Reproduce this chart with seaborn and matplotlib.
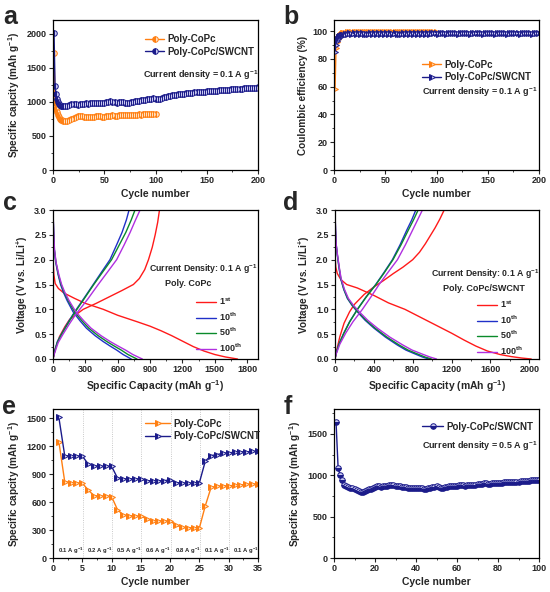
import numpy as np
import pandas as pd
import seaborn as sns
import matplotlib.pyplot as plt
from matplotlib.ticker import AutoMinorLocator
from matplotlib.lines import Line2D

sns.set_style('ticks')
plt.rcParams['font.family'] = ['Liberation Sans', 'DejaVu Sans']
plt.rcParams['font.weight'] = 'bold'
plt.rcParams['axes.labelweight'] = 'bold'
plt.rcParams['mathtext.fontset'] = 'custom'
plt.rcParams['mathtext.rm'] = 'Liberation Sans:bold'
plt.rcParams['mathtext.bf'] = 'Liberation Sans:bold'
plt.rcParams['mathtext.default'] = 'bf'

ORANGE = '#FF7F12'
NAVY = '#1B1B8A'

# ---- panel a : cycling at 0.1 A/g
a_cyc_copc = list(range(1, 11)) + list(range(12, 101, 2))
a_cap_copc = [1710, 990, 900, 850, 810, 780, 755, 740, 730, 722,
              718, 722, 735, 750, 765, 775, 785, 790, 785, 778,
              775, 772, 775, 778, 780, 785, 790, 785, 780, 782,
              790, 795, 798, 800, 798, 795, 800, 803, 805, 806,
              808, 806, 805, 808, 810, 812, 815, 813, 815, 818,
              820, 822, 822, 825, 826]
a_cyc_swcnt = list(range(1, 11)) + list(range(12, 201, 2))
a_cap_swcnt = [2010, 1230, 1110, 1040, 1000, 970, 955, 945, 938, 932,
               935, 945, 958, 968, 972, 968, 960, 962, 968, 975,
               978, 975, 980, 988, 985, 990, 982, 978, 985, 990,
               995, 1000, 1005, 1000, 995, 990, 995, 1000, 995, 990,
               985, 990, 995, 1000, 1008, 1012, 1018, 1020, 1028, 1032,
               1036, 1040, 1045, 1050, 1048, 1040, 1045, 1058, 1068, 1075,
               1085, 1090, 1095, 1100, 1105, 1108, 1110, 1115, 1120, 1125,
               1128, 1130, 1135, 1138, 1140, 1142, 1145, 1148, 1150, 1152,
               1155, 1158, 1160, 1162, 1165, 1168, 1170, 1172, 1175, 1178,
               1180, 1182, 1185, 1188, 1190, 1192, 1195, 1198, 1200, 1202,
               1205, 1206, 1208, 1210, 1212]

# ---- panel b : coulombic efficiency
b_ce_copc = [58, 88, 92, 94.5, 96, 96.8, 97.5, 98, 98.4, 98.7,
             99.0, 99.2, 99.4, 99.3, 99.5, 99.2, 99.6, 99.4, 99.1, 99.5,
             99.3, 99.6, 99.2, 99.4, 99.5, 99.1, 99.6, 99.3, 99.4, 99.2,
             99.5, 99.3, 99.6, 99.4, 99.2, 99.5, 99.3, 99.1, 99.6, 99.4,
             99.2, 99.5, 99.3, 99.6, 99.4, 99.1, 99.5, 99.3, 99.4, 99.2,
             99.6, 99.3, 99.5, 99.4, 99.2]
b_ce_swcnt = [85, 90, 93, 94.5, 95.5, 96.2, 96.8, 97, 97.2, 97.4,
              97.6, 97.8, 98.4, 97.7, 98.5, 97.9, 98.3, 97.6, 98.6, 97.8,
              98.2, 97.7, 98.5, 98.0, 98.4, 97.8, 98.6, 97.9, 98.3, 97.7,
              98.5, 98.0, 98.4, 97.8, 98.6, 97.9, 98.2, 97.7, 98.5, 98.1,
              98.4, 97.8, 98.6, 97.9, 98.3, 98.0, 98.5, 98.1, 98.7, 98.2,
              98.6, 98.1, 98.8, 98.3, 98.7, 98.2, 98.9, 98.3, 98.7, 98.2,
              98.8, 98.4, 98.9, 98.3, 98.7, 98.2, 98.8, 98.4, 98.9, 98.3,
              98.7, 98.2, 98.8, 98.4, 98.9, 98.3, 98.7, 98.2, 98.8, 98.4,
              98.9, 98.3, 98.7, 98.2, 98.8, 98.4, 98.9, 98.3, 98.7, 98.2,
              98.8, 98.4, 98.9, 98.3, 98.7, 98.2, 98.8, 98.4, 98.9, 98.3,
              98.7, 98.2, 98.8, 98.4, 98.9]

# ---- panel c : voltage profiles Poly-CoPc (capacity, voltage)
c_curves = {
    '1st': dict(
        dis_q=[0, 8, 20, 50, 100, 200, 300, 466, 600, 780, 900, 1000, 1100, 1200, 1300, 1400, 1500, 1600, 1710],
        dis_v=[2.0, 1.7, 1.52, 1.42, 1.33, 1.22, 1.12, 1.0, 0.88, 0.75, 0.66, 0.57, 0.47, 0.36, 0.25, 0.16, 0.09, 0.04, 0.0],
        ch_q=[0, 20, 60, 110, 155, 280, 400, 520, 640, 745, 800, 850, 885, 920, 947, 970, 987],
        ch_v=[0.0, 0.2, 0.45, 0.65, 0.8, 1.0, 1.12, 1.25, 1.38, 1.5, 1.62, 1.8, 2.0, 2.25, 2.5, 2.75, 3.0]),
    '10th': dict(
        dis_q=[0, 5, 12, 25, 47, 70, 95, 130, 186, 250, 310, 390, 466, 530, 590, 650, 700, 725],
        dis_v=[3.0, 2.6, 2.2, 1.95, 1.7, 1.5, 1.35, 1.18, 0.95, 0.77, 0.62, 0.47, 0.35, 0.26, 0.18, 0.09, 0.03, 0.0],
        ch_q=[0, 10, 40, 78, 130, 180, 217, 280, 373, 450, 528, 590, 640, 680, 705],
        ch_v=[0.0, 0.12, 0.35, 0.5, 0.7, 0.88, 1.0, 1.2, 1.5, 1.75, 2.0, 2.3, 2.55, 2.8, 3.0]),
    '50th': dict(
        dis_q=[0, 5, 13, 27, 50, 75, 102, 140, 200, 268, 332, 418, 500, 568, 632, 695, 750, 778],
        dis_v=[3.0, 2.6, 2.2, 1.95, 1.7, 1.5, 1.35, 1.18, 0.95, 0.77, 0.62, 0.47, 0.35, 0.26, 0.18, 0.09, 0.03, 0.0],
        ch_q=[0, 10, 40, 80, 135, 185, 222, 285, 378, 460, 543, 615, 675, 725, 760],
        ch_v=[0.0, 0.1, 0.33, 0.5, 0.7, 0.88, 1.0, 1.2, 1.5, 1.75, 2.0, 2.3, 2.55, 2.8, 3.0]),
    '100th': dict(
        dis_q=[0, 6, 14, 28, 54, 80, 108, 148, 212, 285, 353, 445, 531, 604, 672, 740, 798, 828],
        dis_v=[3.0, 2.6, 2.2, 1.95, 1.7, 1.5, 1.35, 1.18, 0.95, 0.77, 0.62, 0.47, 0.35, 0.26, 0.18, 0.09, 0.03, 0.0],
        ch_q=[0, 12, 48, 93, 150, 205, 248, 320, 419, 505, 590, 660, 715, 765, 807],
        ch_v=[0.0, 0.1, 0.33, 0.5, 0.7, 0.88, 1.0, 1.2, 1.5, 1.75, 2.0, 2.3, 2.55, 2.8, 3.0]),
}

# ---- panel d : voltage profiles Poly-CoPc/SWCNT
d_curves = {
    '1st': dict(
        dis_q=[0, 8, 24, 60, 120, 230, 400, 550, 720, 850, 1000, 1100, 1200, 1330, 1450, 1570, 1700, 1810, 1920, 2020],
        dis_v=[2.1, 1.85, 1.72, 1.6, 1.5, 1.43, 1.28, 1.13, 1.0, 0.87, 0.72, 0.62, 0.52, 0.38, 0.26, 0.16, 0.09, 0.05, 0.02, 0.0],
        ch_q=[0, 20, 50, 93, 150, 200, 300, 400, 500, 600, 700, 800, 870, 930, 980, 1030, 1080, 1124],
        ch_v=[0.0, 0.2, 0.45, 0.72, 0.95, 1.1, 1.3, 1.45, 1.58, 1.72, 1.85, 2.0, 2.15, 2.32, 2.48, 2.64, 2.82, 3.0]),
    '10th': dict(
        dis_q=[0, 5, 12, 24, 40, 58, 90, 127, 175, 230, 310, 402, 520, 643, 730, 814, 900, 965],
        dis_v=[3.0, 2.6, 2.3, 2.09, 1.85, 1.62, 1.4, 1.22, 1.08, 0.95, 0.78, 0.62, 0.44, 0.28, 0.18, 0.11, 0.04, 0.0],
        ch_q=[0, 10, 40, 90, 150, 230, 320, 419, 500, 591, 670, 740, 790, 832],
        ch_v=[0.0, 0.1, 0.3, 0.52, 0.75, 1.0, 1.25, 1.5, 1.73, 2.0, 2.3, 2.6, 2.8, 3.0]),
    '50th': dict(
        dis_q=[0, 5, 12, 25, 42, 60, 93, 131, 180, 237, 320, 414, 535, 662, 752, 838, 926, 993],
        dis_v=[3.0, 2.6, 2.3, 2.09, 1.85, 1.62, 1.4, 1.22, 1.08, 0.95, 0.78, 0.62, 0.44, 0.28, 0.18, 0.11, 0.04, 0.0],
        ch_q=[0, 10, 42, 92, 152, 232, 322, 422, 505, 597, 680, 756, 808, 856],
        ch_v=[0.0, 0.1, 0.3, 0.52, 0.75, 1.0, 1.25, 1.5, 1.73, 2.0, 2.3, 2.6, 2.8, 3.0]),
    '100th': dict(
        dis_q=[0, 6, 13, 26, 44, 63, 98, 138, 190, 250, 337, 437, 565, 700, 793, 884, 977, 1045],
        dis_v=[3.0, 2.6, 2.3, 2.09, 1.85, 1.62, 1.4, 1.22, 1.08, 0.95, 0.78, 0.62, 0.44, 0.28, 0.18, 0.11, 0.04, 0.0],
        ch_q=[0, 12, 50, 110, 185, 282, 370, 454, 540, 643, 725, 800, 850, 900],
        ch_v=[0.0, 0.1, 0.3, 0.52, 0.75, 1.0, 1.25, 1.5, 1.73, 2.0, 2.3, 2.6, 2.8, 3.0]),
}
cycle_colors = {'1st': '#FF1A1A', '10th': '#2030C8', '50th': '#0A8A2A', '100th': '#B030E0'}
cycle_labels = {'1st': r'1$^{st}$', '10th': r'10$^{th}$', '50th': r'50$^{th}$', '100th': r'100$^{th}$'}

# ---- panel e : rate performance
e_cyc = list(range(1, 36))
e_cap_copc = [1250, 820, 810, 805, 805, 730, 670, 665, 665, 660,
              520, 460, 455, 450, 450, 420, 400, 400, 400, 395,
              355, 330, 325, 325, 325, 560, 760, 770, 775, 775,
              780, 785, 790, 795, 795]
e_cap_swcnt = [1510, 1100, 1095, 1095, 1095, 1010, 990, 985, 985, 985,
               860, 850, 850, 850, 850, 830, 830, 830, 830, 840,
               810, 805, 805, 805, 810, 1040, 1100, 1110, 1125, 1130,
               1135, 1140, 1140, 1145, 1145]
e_rates = ['0.1', '0.2', '0.5', '0.6', '0.8', '0.1', '0.1']
e_rate_x = [3, 8, 13, 18, 23, 28, 33]
e_bounds = [5.1, 10.1, 15.1, 20.1, 25.1, 30.1]

# ---- panel f : cycling at 0.5 A/g
f_cyc = list(range(1, 101))
f_cap = [1640, 1090, 1000, 940, 885, 865, 855, 848, 842, 835,
         822, 808, 795, 798, 808, 818, 828, 838, 848, 858,
         870, 866, 862, 864, 866, 870, 878, 886, 878, 872,
         868, 865, 862, 858, 855, 850, 846, 842, 840, 842,
         845, 843, 840, 838, 836, 842, 850, 858, 862, 865,
         858, 850, 842, 852, 860, 864, 868, 870, 872, 875,
         878, 880, 876, 874, 876, 880, 882, 884, 886, 890,
         896, 900, 904, 902, 900, 898, 902, 906, 908, 910,
         906, 910, 914, 916, 918, 920, 918, 916, 920, 924,
         926, 928, 930, 932, 935, 938, 940, 942, 944, 946]

fig = plt.figure(figsize=(5.5, 5.92), dpi=100)
W, H = 550, 592


def make_ax(left, top, right, bottom):
    return fig.add_axes([left / W, 1 - bottom / H, (right - left) / W, (bottom - top) / H])


def style(ax, xlabel, ylabel):
    ax.set_xlabel(xlabel, fontsize=7.5, labelpad=3)
    ax.set_ylabel(ylabel, fontsize=7.2, labelpad=3)
    ax.tick_params(direction='out', length=3, width=0.8, labelsize=6.5, pad=1.5)
    ax.tick_params(which='minor', direction='out', length=1.6, width=0.6)
    ax.xaxis.set_minor_locator(AutoMinorLocator(2))
    ax.yaxis.set_minor_locator(AutoMinorLocator(2))
    for s in ax.spines.values():
        s.set_linewidth(0.9)
        s.set_color('black')
    for lab in ax.get_xticklabels() + ax.get_yticklabels():
        lab.set_fontweight('bold')


ax_a = make_ax(53, 20, 258, 170)
ax_b = make_ax(334, 20, 539, 170)
ax_c = make_ax(53, 210, 258, 359)
ax_d = make_ax(335, 210, 539, 359)
ax_e = make_ax(53, 409, 258, 558)
ax_f = make_ax(334, 409, 539, 558)

cap_label = r'Specific capcity (mAh g$^{-1}$)'

# a
sns.lineplot(x=a_cyc_copc, y=a_cap_copc, ax=ax_a, color=ORANGE, lw=1.0, marker='o', ms=4,
             fillstyle='left', mfc=ORANGE, mec=ORANGE, markerfacecoloralt='#FFE0C0', mew=0.7,
             label='Poly-CoPc', errorbar=None)
sns.lineplot(x=a_cyc_swcnt, y=a_cap_swcnt, ax=ax_a, color=NAVY, lw=1.0, marker='o', ms=4,
             fillstyle='left', mfc=NAVY, mec=NAVY, markerfacecoloralt='#C8C8F0', mew=0.7,
             label='Poly-CoPc/SWCNT', errorbar=None)
ax_a.set_xlim(0, 200)
ax_a.set_ylim(0, 2200)
ax_a.set_xticks([0, 50, 100, 150, 200])
ax_a.set_yticks([0, 500, 1000, 1500, 2000])
ax_a.legend(loc='upper left', bbox_to_anchor=(0.43, 0.93), frameon=False, fontsize=7,
            handlelength=2.0, handletextpad=0.3, labelspacing=0.25, borderaxespad=0)
ax_a.text(0.44, 0.63, r'Current density = 0.1 A g$^{-1}$', transform=ax_a.transAxes,
          fontsize=6.5, va='center')
style(ax_a, 'Cycle number', cap_label)

# b
sns.lineplot(x=a_cyc_copc, y=b_ce_copc, ax=ax_b, color=ORANGE, lw=1.0, marker='>', ms=4.5,
             fillstyle='left', mfc=ORANGE, mec=ORANGE, markerfacecoloralt='#FFD0A0', mew=0.7,
             label='Poly-CoPc', errorbar=None)
sns.lineplot(x=a_cyc_swcnt, y=b_ce_swcnt, ax=ax_b, color=NAVY, lw=1.0, marker='>', ms=4.5,
             fillstyle='left', mfc=NAVY, mec=NAVY, markerfacecoloralt='#C8C8F0', mew=0.7,
             label='Poly-CoPc/SWCNT', errorbar=None)
ax_b.set_xlim(0, 200)
ax_b.set_ylim(0, 108)
ax_b.set_xticks([0, 50, 100, 150, 200])
ax_b.set_yticks([0, 20, 40, 60, 80, 100])
ax_b.legend(loc='upper left', bbox_to_anchor=(0.41, 0.76), frameon=False, fontsize=7,
            handlelength=2.0, handletextpad=0.3, labelspacing=0.25, borderaxespad=0)
ax_b.text(0.43, 0.52, r'Current density = 0.1 A g$^{-1}$', transform=ax_b.transAxes,
          fontsize=6.5, va='center')
style(ax_b, 'Cycle number', 'Coulombic efficiency (%)')


def profiles(ax, curves, xmax, xticks, title, tx, ty, px, py, lx, ly):
    for key, cv in curves.items():
        col = cycle_colors[key]
        sns.lineplot(x=cv['dis_q'], y=cv['dis_v'], ax=ax, color=col, lw=1.0, sort=False, errorbar=None)
        sns.lineplot(x=cv['ch_q'], y=cv['ch_v'], ax=ax, color=col, lw=1.0, sort=False, errorbar=None)
    ax.set_xlim(0, xmax)
    ax.set_ylim(0, 3.0)
    ax.set_xticks(xticks)
    ax.set_yticks([0, 0.5, 1.0, 1.5, 2.0, 2.5, 3.0])
    ax.set_yticklabels(['0.0', '0.5', '1.0', '1.5', '2.0', '2.5', '3.0'])
    ax.text(tx, ty, r'Current Density: 0.1 A g$^{-1}$', transform=ax.transAxes, fontsize=6.3, va='center')
    ax.text(px, py, title, transform=ax.transAxes, fontsize=6.5, va='center', ha='center')
    handles = [Line2D([], [], color=cycle_colors[k], lw=1.0) for k in curves]
    ax.legend(handles, [cycle_labels[k] for k in curves], loc='upper left', bbox_to_anchor=(lx, ly),
              frameon=False, fontsize=6.5, handlelength=2.2, handletextpad=0.3, labelspacing=0.35,
              borderaxespad=0)
    style(ax, r'Specific Capacity (mAh g$^{-1}$)', r'Voltage (V vs. Li/Li$^{+}$)')


profiles(ax_c, c_curves, 1900, [0, 300, 600, 900, 1200, 1500, 1800], 'Poly. CoPc',
         0.47, 0.60, 0.66, 0.51, 0.68, 0.45)
profiles(ax_d, d_curves, 2100, [0, 400, 800, 1200, 1600, 2000], 'Poly. CoPc/SWCNT',
         0.47, 0.57, 0.73, 0.475, 0.68, 0.43)

# e
for b in e_bounds:
    ax_e.axvline(b, color='#B8B8B8', lw=0.6, ls=':')
sns.lineplot(x=e_cyc, y=e_cap_copc, ax=ax_e, color=ORANGE, lw=1.0, marker='>', ms=4.5,
             fillstyle='left', mfc=ORANGE, mec=ORANGE, markerfacecoloralt='#FFE0C0', mew=0.7,
             label='Poly-CoPc', errorbar=None)
sns.lineplot(x=e_cyc, y=e_cap_swcnt, ax=ax_e, color=NAVY, lw=1.0, marker='>', ms=4.5,
             fillstyle='left', mfc=NAVY, mec=NAVY, markerfacecoloralt='#D0D0F0', mew=0.7,
             label='Poly-CoPc/SWCNT', errorbar=None)
for r, xr in zip(e_rates, e_rate_x):
    ax_e.text(xr, 80, r + r' A g$^{-1}$', fontsize=4.2, ha='center', va='center')
ax_e.set_xlim(0, 35)
ax_e.set_ylim(0, 1600)
ax_e.set_xticks([0, 5, 10, 15, 20, 25, 30, 35])
ax_e.set_yticks([0, 300, 600, 900, 1200, 1500])
ax_e.legend(loc='upper left', bbox_to_anchor=(0.43, 0.96), frameon=False, fontsize=7,
            handlelength=2.6, handletextpad=0.3, labelspacing=0.25, borderaxespad=0)
style(ax_e, 'Cycle number', cap_label)

# f
sns.lineplot(x=f_cyc, y=f_cap, ax=ax_f, color=NAVY, lw=1.0, marker='o', ms=4,
             fillstyle='bottom', mfc=NAVY, mec=NAVY, markerfacecoloralt='#C8C8F0', mew=0.7,
             label='Poly-CoPc/SWCNT', errorbar=None)
ax_f.set_xlim(0, 100)
ax_f.set_ylim(0, 1800)
ax_f.set_xticks([0, 20, 40, 60, 80, 100])
ax_f.set_yticks([0, 500, 1000, 1500])
ax_f.legend(loc='upper left', bbox_to_anchor=(0.41, 0.94), frameon=False, fontsize=7,
            handlelength=2.2, handletextpad=0.3, borderaxespad=0)
ax_f.text(0.43, 0.75, r'Current density = 0.5 A g$^{-1}$', transform=ax_f.transAxes,
          fontsize=6.5, va='center')
style(ax_f, 'Cycle number', cap_label)

for letter, x, y in [('a', 0.006, 0.992), ('b', 0.515, 0.992), ('c', 0.006, 0.677),
                     ('d', 0.515, 0.677), ('e', 0.004, 0.333), ('f', 0.515, 0.333)]:
    fig.text(x, y, letter, fontsize=18, fontweight='bold', va='top', ha='left')

fig.savefig('out.png', dpi=100)
